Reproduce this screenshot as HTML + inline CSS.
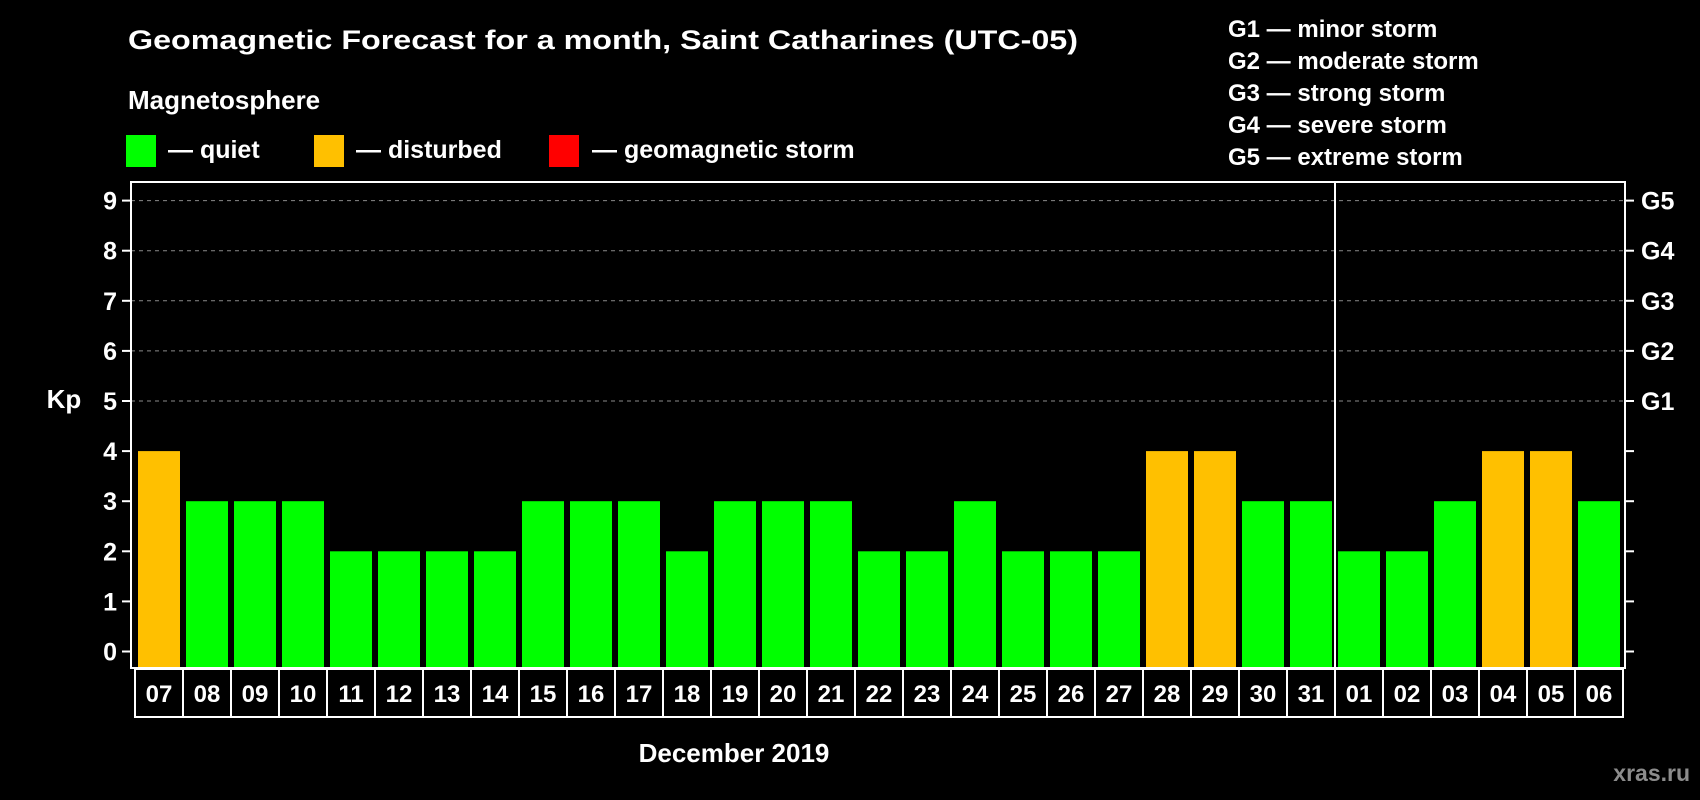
<!DOCTYPE html>
<html><head><meta charset="utf-8"><style>
html,body{margin:0;padding:0;background:#000;}
svg{display:block;font-family:"Liberation Sans",Arial,sans-serif;font-weight:bold;}
</style></head><body>
<svg id="chart" width="1700" height="800" viewBox="0 0 1700 800" xmlns="http://www.w3.org/2000/svg">
<rect width="1700" height="800" fill="#000"/>
<text x="128" y="49" fill="#fff" font-size="27" textLength="950" lengthAdjust="spacingAndGlyphs">Geomagnetic Forecast for a month, Saint Catharines  (UTC-05)</text>
<text x="128" y="109" fill="#fff" font-size="26">Magnetosphere</text>
<g>
<rect x="126" y="135" width="30" height="32" fill="#00ff00"/>
<text x="168" y="158" fill="#fff" font-size="25">— quiet</text></g>
<g>
<rect x="314" y="135" width="30" height="32" fill="#ffc000"/>
<text x="356" y="158" fill="#fff" font-size="25">— disturbed</text></g>
<g>
<rect x="549" y="135" width="30" height="32" fill="#ff0000"/>
<text x="592" y="158" fill="#fff" font-size="25">— geomagnetic storm</text></g>
<g fill="#fff" font-size="24">
<text x="1228" y="37">G1 — minor storm</text>
<text x="1228" y="69">G2 — moderate storm</text>
<text x="1228" y="101">G3 — strong storm</text>
<text x="1228" y="133">G4 — severe storm</text>
<text x="1228" y="165">G5 — extreme storm</text>
</g>
<g id="plot"></g>
<text x="64" y="408" fill="#fff" font-size="26" text-anchor="middle">Kp</text>
<text x="734" y="762" fill="#fff" font-size="26" text-anchor="middle">December 2019</text>
<text x="1690" y="781" fill="#8c8c8c" font-size="23" text-anchor="end">xras.ru</text>
</svg>
<script>
const days = ["07","08","09","10","11","12","13","14","15","16","17","18","19","20","21","22","23","24","25","26","27","28","29","30","31","01","02","03","04","05","06"];
const kpValues = [4,3,3,3,2,2,2,2,3,3,3,2,3,3,3,2,2,3,2,2,2,4,4,3,3,2,2,3,4,4,3];
const yTicks = [0,1,2,3,4,5,6,7,8,9];
const gLabels = ["G1","G2","G3","G4","G5"];
const gLevels = [5,6,7,8,9];
const monthBreakIndex = 25;

const NS = "http://www.w3.org/2000/svg";
const plot = document.getElementById("plot");
const L = 131, R = 1625, T = 182, B = 668;
const slot = 48, x0 = 134;
function yScale(v){ return 651.5 - v * 50.1; }
function xScale(i){ return x0 + i * slot; }
function mk(tag, attrs, parent){
  const e = document.createElementNS(NS, tag);
  for (const k in attrs) e.setAttribute(k, attrs[k]);
  (parent || plot).appendChild(e);
  return e;
}
function color(v){ return v >= 5 ? "#ff0000" : (v >= 4 ? "#ffc000" : "#00ff00"); }

// grid
gLevels.forEach(v => {
  const g = mk("line", {x1:L, x2:R, y1:yScale(v), y2:yScale(v), stroke:"#8a8a8a", "stroke-width":1, "stroke-dasharray":"4,4"});
  
  
});
// bars
kpValues.forEach((v, i) => {
  const b = mk("rect", {x:xScale(i)+4, y:yScale(v), width:42, height:B - 1 - yScale(v), fill:color(v)});
  
  
});
// frame
const fr = mk("rect", {x:L, y:T, width:R-L, height:B-T, fill:"none", stroke:"#fff", "stroke-width":2});


const dv = mk("line", {x1:xScale(monthBreakIndex)+1, x2:xScale(monthBreakIndex)+1, y1:T, y2:B, stroke:"#fff", "stroke-width":2});


// y ticks
yTicks.forEach(v => {
  const y = yScale(v);
  mk("line", {x1:L-9, x2:L, y1:y, y2:y, stroke:"#fff", "stroke-width":2});
  mk("line", {x1:R, x2:R+9, y1:y, y2:y, stroke:"#fff", "stroke-width":2});
  const t = mk("text", {x:117, y:y+9, fill:"#fff", "font-size":25, "text-anchor":"end"});
  t.textContent = yTicks[yTicks.indexOf(v)];
  
  
});
gLabels.forEach((g, i) => {
  const t = mk("text", {x:1641, y:yScale(gLevels[i])+9, fill:"#fff", "font-size":25});
  t.textContent = g;
  
  
});
// date boxes
days.forEach((d, i) => {
  const x = 135 + i * slot;
  const r = mk("rect", {x:x, y:669, width:slot, height:48, fill:"none", stroke:"#fff", "stroke-width":2});
  
  
  const t = mk("text", {x:x + slot/2, y:702, fill:"#fff", "font-size":24, "text-anchor":"middle"});
  t.textContent = d;
  
  
});
</script>
</body></html>
